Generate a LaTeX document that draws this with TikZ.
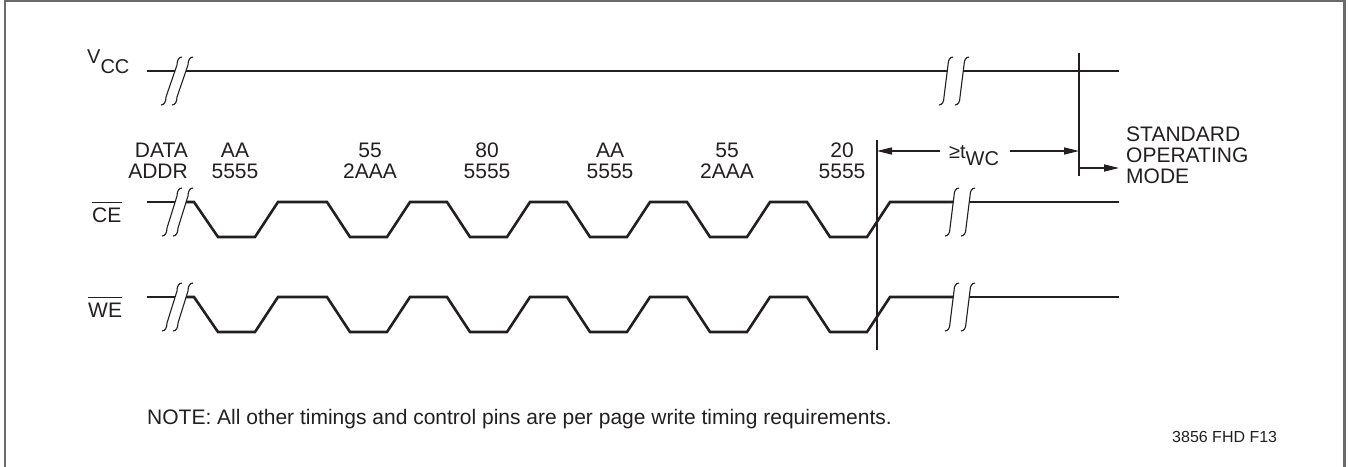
\documentclass[tikz,border=0pt]{standalone}
\usepackage{fontspec}
\setmainfont{Liberation Sans}
\usetikzlibrary{arrows.meta,calc}
\definecolor{ink}{HTML}{231F20}
\definecolor{framegray}{HTML}{6A6A6A}
\tikzset{
  sig/.style={line width=2.6pt, draw=ink, line join=miter},
  brk/.style={line width=1.1pt, draw=ink},
  thinline/.style={line width=1.3pt, draw=ink},
  dimarrow/.style={line width=1.3pt, draw=ink, -{Triangle[length=15pt,width=7pt]}},
  lbl/.style={inner sep=0pt, text=ink, font=\fontsize{21}{21}\selectfont},
}
% break mark: #1 name, #2 top tip x of first curve, #3 signal y, #4 spacing, #5 bottom offset
\newcommand\brkmark[5]{%
  \foreach \s/\n in {0/a,#4/b}{%
    \draw[brk] ({#2+\s},{#3-14}) .. controls ({#2+\s-3},{#3-14}) and ({#2+\s-5},{#3-11}) .. ({#2+\s-5},{#3-6})
      -- ({#2+\s+#5+5},{#3+26}) .. controls ({#2+\s+#5+5},{#3+31}) and ({#2+\s+#5+3},{#3+34}) .. ({#2+\s+#5},{#3+34});
    \coordinate (#1\n) at ({#2+\s-5+0.1875*(#5+10)},{#3});
  }%
}
% control waveform: #1 prefix, #2 high y, #3 low y
\newcommand\trapwave[3]{%
  \brkmark{#1L}{182}{#2}{11}{-20}
  \brkmark{#1R}{959}{#2}{16}{-14}
  \draw[sig] (147,#2) -- (#1La);
  \draw[sig] (#1Lb) -- (194,#2) -- (218,#3) -- (255,#3) -- (278,#2) -- (327,#2)
    -- (350,#3) -- (387,#3) -- (410,#2) -- (447,#2)
    -- (470,#3) -- (507,#3) -- (530,#2) -- (567,#2)
    -- (590,#3) -- (627,#3) -- (650,#2) -- (687,#2)
    -- (710,#3) -- (747,#3) -- (770,#2) -- (807,#2)
    -- (830,#3) -- (867,#3) -- (890,#2) -- (#1Ra);
  \draw[sig] (#1Rb) -- (1119,#2);
}
\begin{document}
\begin{tikzpicture}[x=1pt,y=-1pt]
\useasboundingbox (0,0) rectangle (1348,466);
% frame
\draw[framegray, line width=1.5pt] (5,467) -- (5,1) -- (1344,1);
\draw[framegray, line width=3pt] (1344.7,0) -- (1344.7,467);

% VCC
\node[lbl, font=\fontsize{20}{21}\selectfont, anchor=base west] (vcc) at (87,63) {V\raisebox{-10pt}{CC}};
\brkmark{VL}{182}{71}{11}{-21}
\brkmark{VR}{953}{71}{16}{-14}
\draw[sig] (147,71) -- (VLa);
\draw[sig] (VLb) -- (VRa);
\draw[sig] (VRb) -- (1119,71);

% CE and WE
\trapwave{C}{202}{237}
\trapwave{W}{297}{332}
\node[lbl, anchor=base west] (ce) at (92,222) {CE};
\draw[line width=1.2pt, ink] ([yshift=5pt]ce.north west) -- ([yshift=5pt]ce.north east);
\node[lbl, anchor=base west] (we) at (88,317) {WE};
\draw[line width=1.2pt, ink] ([yshift=5pt]we.north west) -- ([yshift=5pt]we.north east);

% data / address labels
\node[lbl, anchor=north east, align=right] (da) at (188,143) {DATA\\ADDR};
\node[lbl, anchor=north, align=center] (l1) at (235,143) {AA\\5555};
\node[lbl, anchor=north, align=center] (l2) at (370,143) {55\\2AAA};
\node[lbl, anchor=north, align=center] (l3) at (487,143) {80\\5555};
\node[lbl, anchor=north, align=center] (l4) at (610,143) {AA\\5555};
\node[lbl, anchor=north, align=center] (l5) at (727,143) {55\\2AAA};
\node[lbl, anchor=north, align=center] (l6) at (842,143) {20\\5555};

% markers
\coordinate (m1t) at (877,140); \coordinate (m1b) at (877,350);
\coordinate (m2t) at (1079,53); \coordinate (m2b) at (1079,176);
\draw[thinline] (m1t) -- (m1b);
\draw[thinline] (m2t) -- (m2b);

% tWC dimension
\node[lbl, font=\fontsize{20}{21}\selectfont, anchor=base west] (twc) at (949,158) {≥t\raisebox{-7pt}{WC}};
\coordinate (a1s) at (940,151); \coordinate (a1e) at (877,151);
\coordinate (a2s) at (1010,151); \coordinate (a2e) at (1079,151);
\draw[dimarrow] (a1s) -- (a1e);
\draw[dimarrow] (a2s) -- (a2e);

% standard operating mode
\coordinate (a3s) at (1079,168); \coordinate (a3e) at (1119,168);
\draw[dimarrow] (a3s) -- (a3e);
\node[lbl, anchor=north west, align=left] (som) at (1126,127) {STANDARD\\OPERATING\\MODE};

% note
\node[lbl, anchor=base west] (note) at (147,424) {NOTE: All other timings and control pins are per page write timing requirements.};
\node[lbl, font=\fontsize{16}{18}\selectfont, anchor=base west] (code) at (1172,442) {3856 FHD F13};
\end{tikzpicture}
\end{document}
